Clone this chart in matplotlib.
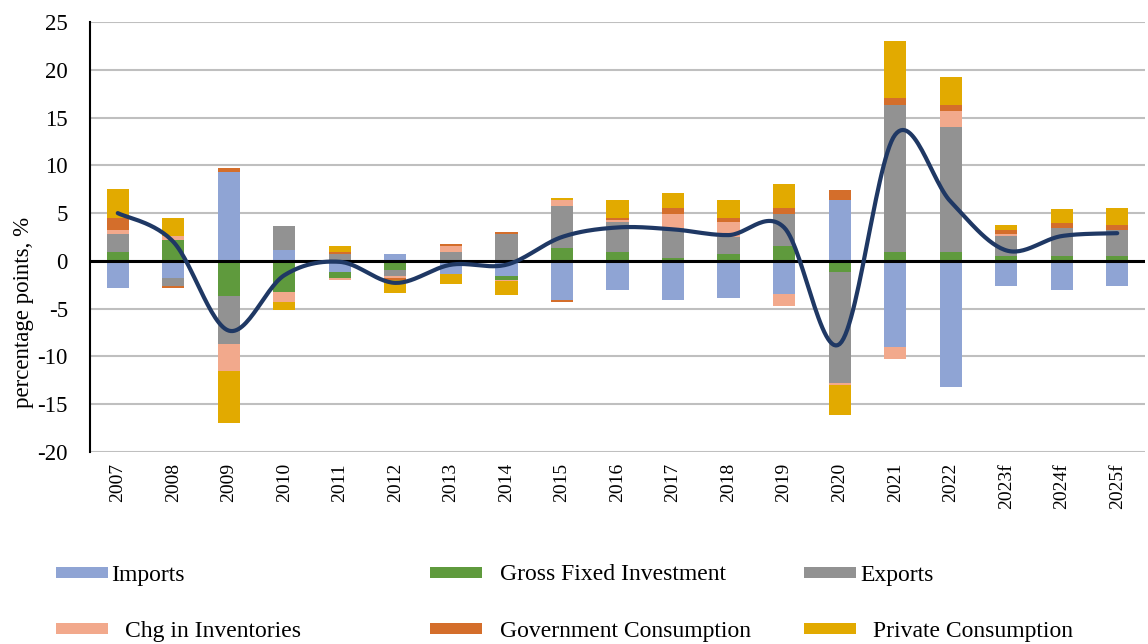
import numpy as np
import matplotlib
matplotlib.use('Agg')
import matplotlib.pyplot as plt
from matplotlib.patches import Rectangle

plt.rcParams['font.family'] = ['Liberation Serif', 'DejaVu Serif']
plt.rcParams['axes.unicode_minus'] = False

# Data (percentage points)
years = ['2007', '2008', '2009', '2010', '2011', '2012', '2013', '2014', '2015', '2016',
         '2017', '2018', '2019', '2020', '2021', '2022', '2023f', '2024f', '2025f']
imports = [-2.8, -1.8, 9.3, 1.15, -1.15, 0.75, -1.35, -1.55, -4.05, -3.0,
           -4.05, -3.85, -3.45, 6.35, -9.05, -13.2, -2.6, -3.0, -2.6]
gfi = [0.95, 2.2, -3.65, -3.25, -0.6, -0.95, 0.0, -0.4, 1.35, 0.95,
       0.3, 0.75, 1.55, -1.15, 0.95, 0.95, 0.5, 0.5, 0.5]
exports = [1.85, -0.85, -5.0, 2.5, 0.75, -0.6, 0.95, 2.8, 4.4, 3.1,
           3.15, 1.75, 3.35, -11.65, 15.4, 13.1, 2.1, 2.9, 2.7]
inventories = [0.4, 0.4, -2.9, -1.05, -0.2, -0.2, 0.6, -0.2, 0.6, 0.2,
               1.45, 1.55, -1.25, -0.2, -1.25, 1.65, 0.2, 0.0, 0.0]
gov = [1.25, -0.2, 0.4, 0.0, 0.2, -0.2, 0.2, 0.2, -0.2, 0.2,
       0.6, 0.4, 0.6, 1.05, 0.65, 0.6, 0.4, 0.6, 0.6]
private = [3.1, 1.9, -5.4, -0.85, 0.6, -1.45, -1.05, -1.45, 0.2, 1.9,
           1.65, 1.9, 2.5, -3.15, 6.0, 2.9, 0.6, 1.45, 1.7]
gdp = [5.0, 2.0, -7.3, -1.5, -0.1, -2.3, -0.4, -0.4, 2.5, 3.5,
       3.3, 2.7, 3.5, -8.7, 13.2, 6.2, 1.1, 2.6, 2.9]

series = [
    ('Imports', imports, '#8FA4D4'),
    ('Gross Fixed Investment', gfi, '#5F9A3D'),
    ('Exports', exports, '#929292'),
    ('Chg in Inventories', inventories, '#F2A98C'),
    ('Government Consumption', gov, '#D46E2B'),
    ('Private Consumption', private, '#E2AA00'),
]


# Excel-style smoothed line (Catmull-Rom through the points)
def smooth(x, y, steps=30):
    x = np.asarray(x, float)
    y = np.asarray(y, float)
    px = np.concatenate([[x[0]], x, [x[-1]]])
    py = np.concatenate([[y[0]], y, [y[-1]]])
    xs, ys = [], []
    t = np.linspace(0, 1, steps)
    for i in range(1, len(px) - 2):
        p0, p1, p2, p3 = (np.array([px[j], py[j]]) for j in (i - 1, i, i + 1, i + 2))
        c1 = p1 + (p2 - p0) / 6
        c2 = p2 - (p3 - p1) / 6
        b = (np.outer((1 - t) ** 3, p1) + np.outer(3 * (1 - t) ** 2 * t, c1)
             + np.outer(3 * (1 - t) * t ** 2, c2) + np.outer(t ** 3, p2))
        xs.extend(b[:, 0])
        ys.extend(b[:, 1])
    return xs, ys


W, H = 1148, 644
fig = plt.figure(figsize=(W / 100, H / 100), dpi=100)
ax = fig.add_axes([90 / W, 1 - 452 / H, (1145 - 90) / W, (452 - 22) / H])

x = np.arange(len(years))
pos_base = np.zeros(len(years))
neg_base = np.zeros(len(years))
for name, vals, color in series:
    v = np.array(vals)
    bottom = np.where(v >= 0, pos_base, neg_base)
    ax.bar(x, v, 0.4, bottom=bottom, color=color, zorder=2, linewidth=0)
    pos_base = pos_base + np.where(v > 0, v, 0)
    neg_base = neg_base + np.where(v < 0, v, 0)

ax.axhline(0, color='black', linewidth=2.2, zorder=3)

sx, sy = smooth(x, gdp)
ax.plot(sx, sy, color='#1F3864', linewidth=3, solid_capstyle='round', zorder=4)

ax.set_xlim(-0.5, len(years) - 0.5)
ax.set_ylim(-20, 25)
ax.set_yticks(range(-20, 26, 5))
ax.grid(axis='y', color='#BFBFBF', linewidth=1.5, zorder=0)
ax.set_axisbelow(True)
for s in ['top', 'right', 'bottom']:
    ax.spines[s].set_visible(False)
ax.spines['left'].set_color('black')
ax.spines['left'].set_linewidth(1.5)

ax.set_xticks(x)
ax.set_xticklabels(years, rotation=90, fontsize=14)
ax.tick_params(axis='x', length=0, pad=8)
ax.tick_params(axis='y', length=0, pad=16, labelsize=16.5)

fig.text(24 / W, 1 - 312 / H, 'percentage points, %', rotation=90,
         ha='center', va='center', fontsize=16.5)

# Legend laid out like the original (two rows of three)
legend_pos = [
    (56, 567, 111), (430, 567, 500), (804, 567, 860),
    (56, 623, 125), (430, 623, 500), (804, 623, 873),
]
for (name, vals, color), (px0, py0, tx) in zip(series, legend_pos):
    fig.add_artist(Rectangle((px0 / W, 1 - (py0 + 11) / H), 52 / W, 11 / H,
                             transform=fig.transFigure, color=color, linewidth=0))
    fig.text(tx / W, 1 - (py0 + 8) / H, name, ha='left', va='center', fontsize=17)

fig.savefig('out.png', dpi=100)
